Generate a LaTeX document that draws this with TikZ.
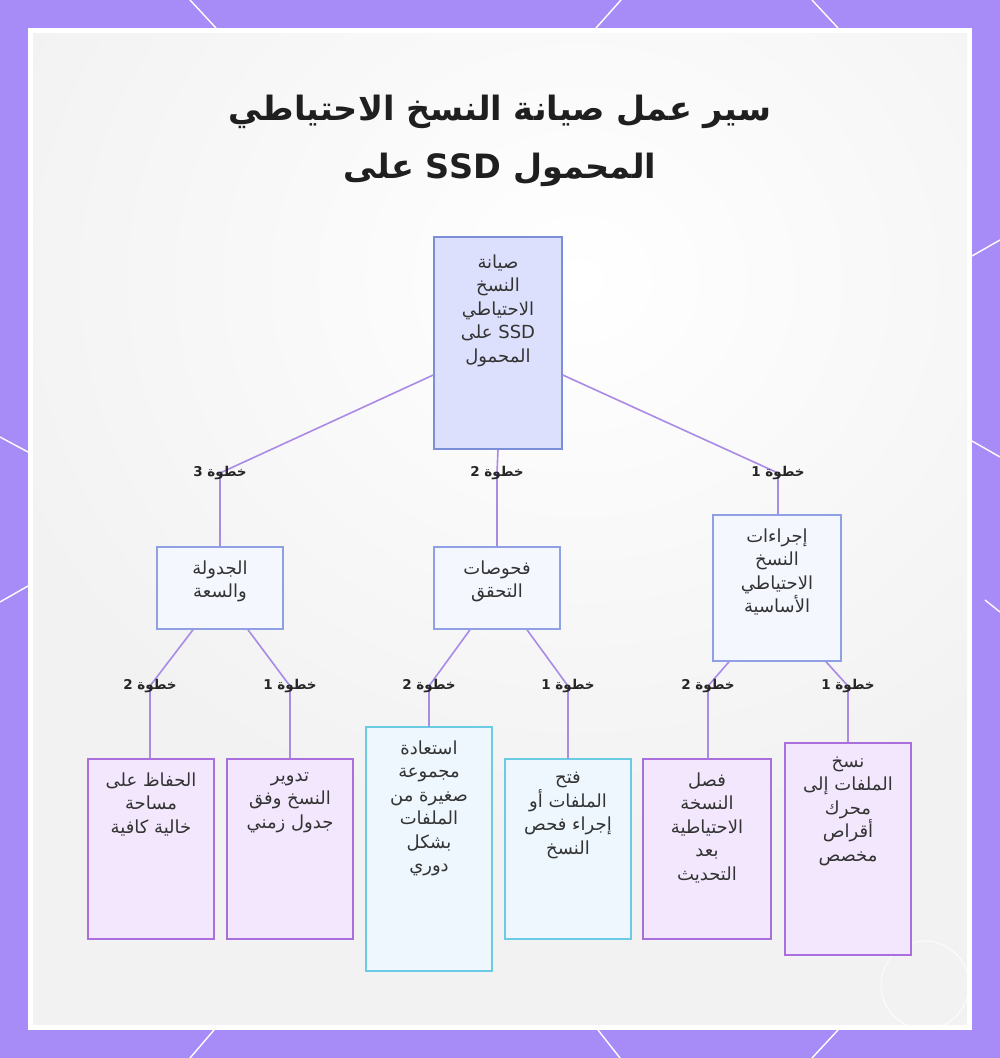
\documentclass[tikz,border=0pt]{standalone}
\usepackage{fontspec}
\newfontfamily\arabicfont[Script=Arabic]{DejaVu Sans}
\TeXXeTstate=1
\newcommand{\myR}[1]{\beginR #1\endR}
\definecolor{framec}{HTML}{A78CF8}
\definecolor{panelc}{HTML}{F2F2F2}
\definecolor{rootfill}{HTML}{DDE0FC}
\definecolor{rootdraw}{HTML}{7B8ED8}
\definecolor{midfill}{HTML}{F5F7FF}
\definecolor{middraw}{HTML}{8EA1E4}
\definecolor{pfill}{HTML}{F2E7FD}
\definecolor{pdraw}{HTML}{A96FDC}
\definecolor{cfill}{HTML}{EDF7FD}
\definecolor{cdraw}{HTML}{6BCAE4}
\definecolor{edgec}{HTML}{A98AE6}
\definecolor{txtc}{HTML}{333333}
\tikzset{
  boxbase/.style={rectangle, line width=1.5pt, inner sep=0pt},
  rootbox/.style={boxbase, draw=rootdraw, fill=rootfill, minimum width=128pt, minimum height=212pt},
  midbox/.style={boxbase, draw=middraw, fill=midfill, minimum width=126pt},
  pbox/.style={boxbase, draw=pdraw, fill=pfill, minimum width=126pt},
  cbox/.style={boxbase, draw=cdraw, fill=cfill, minimum width=126pt},
  txt/.style={anchor=north, inner sep=0pt, align=center, text=txtc,
    font=\arabicfont\fontsize{18}{23.5}\selectfont},
  lbl/.style={inner sep=0pt, text=black!85, font=\arabicfont\bfseries\fontsize{13.5}{16}\selectfont},
  edge/.style={draw=edgec, line width=1.6pt},
  deco/.style={draw=white, line width=1.4pt},
  titlef/.style={inner sep=0pt, text=black!88, font=\arabicfont\bfseries\fontsize{33.5}{50}\selectfont}
}
\begin{document}
\begin{tikzpicture}[x=1pt,y=-1pt]
\useasboundingbox (0,0) rectangle (1000,1058);
% frame
\fill[framec] (0,0) rectangle (1000,1058);
\draw[deco] (190,0) -- (216,28);
\draw[deco] (621,0) -- (596,28);
\draw[deco] (812,0) -- (838,28);
\draw[deco] (0,437) -- (28,452);
\draw[deco] (0,602) -- (28,586);
\draw[deco] (1000,240) -- (972,256);
\draw[deco] (1000,457) -- (972,441);
\draw[deco] (1000,612) -- (985,600);
\draw[deco] (190,1058) -- (214,1030);
\draw[deco] (598,1030) -- (620,1058);
\draw[deco] (812,1058) -- (838,1030);
% panel
\fill[white] (28,28) rectangle (972,1030);
\begin{scope}
\clip (33,33) rectangle (967,1025);
\fill[panelc] (33,33) rectangle (967,1025);
\shade[inner color=white, outer color=panelc] (580,280) ellipse (620 and 560);
\end{scope}
\draw[white, line width=1pt, opacity=0.8] (925,985) circle (44);
% title
\node[titlef] (title1) at (500,112) {\myR{سير عمل صيانة النسخ الاحتياطي}};
\node[titlef] (title2) at (500,170) {\myR{على}\ SSD\ \myR{المحمول}};
% boxes
\node[rootbox] (root) at (498,343) {};
\node[midbox, minimum height=82pt] (s3) at (220,588) {};
\node[midbox, minimum height=82pt] (s2) at (497,588) {};
\node[midbox, minimum width=128pt, minimum height=146pt] (s1) at (777,588) {};
\node[pbox, minimum height=180pt] (a2) at (151,849) {};
\node[pbox, minimum height=180pt] (a1) at (290,849) {};
\node[cbox, minimum height=244pt] (b2) at (429,849) {};
\node[cbox, minimum height=180pt] (b1) at (568,849) {};
\node[pbox, minimum width=128pt, minimum height=180pt] (c2) at (707,849) {};
\node[pbox, minimum height=212pt] (c1) at (848,849) {};
% label anchors
\coordinate (k3) at (220,473);
\coordinate (k2) at (497,473);
\coordinate (k1) at (778,473);
\coordinate (ka2) at (150,686);
\coordinate (ka1) at (290,686);
\coordinate (kb2) at (429,686);
\coordinate (kb1) at (568,686);
\coordinate (kc2) at (708,686);
\coordinate (kc1) at (848,686);
% edges
\draw[edge] ([yshift=-32pt]root.west) -- (k3) -- (s3.north);
\draw[edge] (root.south) -- (k2) -- (s2.north);
\draw[edge] ([yshift=-32pt]root.east) -- (k1) -- (k1 |- s1.north);
\draw[edge] ([xshift=-27pt]s3.south) -- (ka2) -- (ka2 |- a2.north);
\draw[edge] ([xshift=28pt]s3.south) -- (ka1) -- (a1.north);
\draw[edge] ([xshift=-27pt]s2.south) -- (kb2) -- (b2.north);
\draw[edge] ([xshift=30pt]s2.south) -- (kb1) -- (b1.north);
\draw[edge] ([xshift=-48pt]s1.south) -- (kc2) -- (kc2 |- c2.north);
\draw[edge] ([xshift=49pt]s1.south) -- (kc1) -- (c1.north);
% labels
\node[lbl] (t3) at (k3) {\myR{خطوة 3}};
\node[lbl] (t2) at (k2) {\myR{خطوة 2}};
\node[lbl] (t1) at (k1) {\myR{خطوة 1}};
\node[lbl] (ta2) at (ka2) {\myR{خطوة 2}};
\node[lbl] (ta1) at (ka1) {\myR{خطوة 1}};
\node[lbl] (tb2) at (kb2) {\myR{خطوة 2}};
\node[lbl] (tb1) at (kb1) {\myR{خطوة 1}};
\node[lbl] (tc2) at (kc2) {\myR{خطوة 2}};
\node[lbl] (tc1) at (kc1) {\myR{خطوة 1}};
% texts
\node[txt] (rootT) at ([yshift=-18pt]root.north) {\myR{صيانة}\\ \myR{النسخ}\\ \myR{الاحتياطي}\\ \myR{على} SSD\\ \myR{المحمول}};
\node[txt] (s3T) at ([yshift=-14pt]s3.north) {\myR{الجدولة}\\ \myR{والسعة}};
\node[txt] (s2T) at ([yshift=-14pt]s2.north) {\myR{فحوصات}\\ \myR{التحقق}};
\node[txt] (s1T) at ([yshift=-14pt]s1.north) {\myR{إجراءات}\\ \myR{النسخ}\\ \myR{الاحتياطي}\\ \myR{الأساسية}};
\node[txt] (a2T) at ([yshift=-14pt]a2.north) {\myR{الحفاظ على}\\ \myR{مساحة}\\ \myR{خالية كافية}};
\node[txt] (a1T) at ([yshift=-14pt]a1.north) {\myR{تدوير}\\ \myR{النسخ وفق}\\ \myR{جدول زمني}};
\node[txt] (b2T) at ([yshift=-14pt]b2.north) {\myR{استعادة}\\ \myR{مجموعة}\\ \myR{صغيرة من}\\ \myR{الملفات}\\ \myR{بشكل}\\ \myR{دوري}};
\node[txt] (b1T) at ([yshift=-14pt]b1.north) {\myR{فتح}\\ \myR{الملفات أو}\\ \myR{إجراء فحص}\\ \myR{النسخ}};
\node[txt] (c2T) at ([yshift=-14pt]c2.north) {\myR{فصل}\\ \myR{النسخة}\\ \myR{الاحتياطية}\\ \myR{بعد}\\ \myR{التحديث}};
\node[txt] (c1T) at ([yshift=-14pt]c1.north) {\myR{نسخ}\\ \myR{الملفات إلى}\\ \myR{محرك}\\ \myR{أقراص}\\ \myR{مخصص}};
\end{tikzpicture}
\end{document}
